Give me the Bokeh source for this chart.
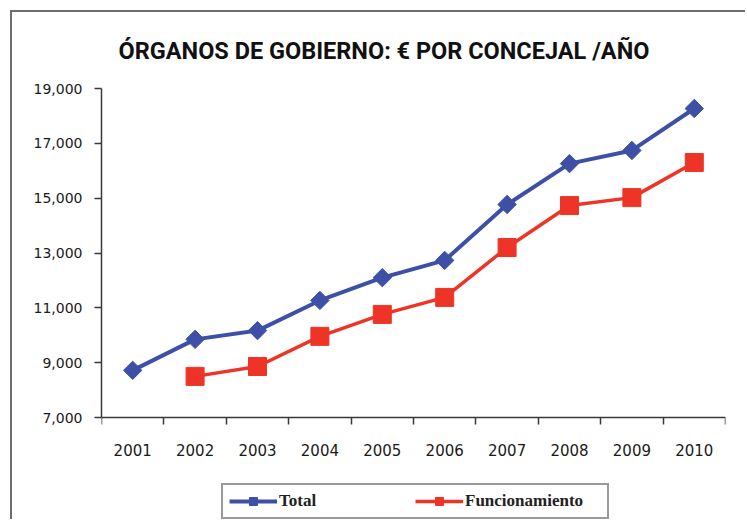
import math
from bokeh.plotting import figure
from bokeh.models import Range1d, FixedTicker, NumeralTickFormatter, Legend, LegendItem
from bokeh.embed import file_html
from bokeh.resources import INLINE

# ---- data ----
years = [2001, 2002, 2003, 2004, 2005, 2006, 2007, 2008, 2009, 2010]
total = [8720, 9850, 10170, 11270, 12100, 12730, 14770, 16260, 16740, 18270]
func_years = [2002, 2003, 2004, 2005, 2006, 2007, 2008, 2009, 2010]
funcionamiento = [8500, 8860, 9960, 10760, 11380, 13200, 14730, 15020, 16300]
y_ticks = [7000, 9000, 11000, 13000, 15000, 17000, 19000]
title_text = "ÓRGANOS DE GOBIERNO: € POR CONCEJAL /AÑO"
series_names = ["Total", "Funcionamiento"]

BLUE = "#3d50a6"
RED = "#ee3427"
AXIS = "#3a3a3a"

# layout: the plotting frame runs down to the bottom edge so that the x axis
# (fixed at the lowest tick) and the legend below it can share it
H = 519
TOP = 88
AXIS_PX = 417          # pixel row of the lowest tick
px_per_unit = (AXIS_PX - TOP) / (y_ticks[-1] - y_ticks[0])
y_bottom = y_ticks[0] - (H - AXIS_PX) / px_per_unit

p = figure(width=745, height=H, output_backend="svg", toolbar_location=None,
           x_range=Range1d(years[0] - 0.5, years[-1] + 0.5),
           y_range=Range1d(y_bottom, y_ticks[-1]),
           min_border_left=101, min_border_right=20, min_border_top=TOP,
           min_border_bottom=0)

p.styles = {"box-shadow": "inset 10px 10px 0 0 #ffffff, inset 12px 12px 0 0 #6e6e6e"}
p.border_fill_color = None
p.background_fill_color = "white"
p.outline_line_color = None
p.xgrid.visible = False
p.ygrid.visible = False

# title
p.title.text = title_text
p.title.text_font = "Roboto"
p.title.text_font_size = "23.5px"
p.title.text_font_style = "bold"
p.title.text_color = "#111111"
p.title.align = "left"
p.title.offset = 17
p.title.standoff = 47

# x axis (fixed at the 7,000 level)
xa = p.xaxis[0]
xa.fixed_location = y_ticks[0]
xa.ticker = FixedTicker(ticks=years, minor_ticks=[y - 0.5 for y in years] + [years[-1] + 0.5])
xa.major_tick_out = 0
xa.major_tick_in = 0
xa.minor_tick_out = 7
xa.minor_tick_in = 0
xa.minor_tick_line_color = AXIS
xa.minor_tick_line_width = 1.5
xa.axis_line_color = AXIS
xa.axis_line_width = 1.5
xa.major_label_standoff = 19
xa.major_label_text_font = "DejaVu Sans"
xa.major_label_text_font_size = "15px"
xa.major_label_text_color = "#1a1a1a"

# y axis
ya = p.yaxis[0]
ya.bounds = (y_ticks[0], y_ticks[-1])
ya.ticker = FixedTicker(ticks=y_ticks, minor_ticks=[])
ya.formatter = NumeralTickFormatter(format="0,0")
ya.major_tick_out = 7
ya.major_tick_in = 0
ya.major_tick_line_color = AXIS
ya.major_tick_line_width = 1.5
ya.axis_line_color = AXIS
ya.axis_line_width = 1.5
ya.major_label_standoff = 12
ya.major_label_text_font = "DejaVu Sans"
ya.major_label_text_font_size = "14px"
ya.major_label_text_color = "#1a1a1a"

# series
l1 = p.line(years, total, line_color=BLUE, line_width=4)
s1 = p.scatter(years, total, marker="square", angle=math.pi / 4, size=13,
               fill_color=BLUE, line_color=BLUE)
l2 = p.line(func_years, funcionamiento, line_color=RED, line_width=3.5)
s2 = p.scatter(func_years, funcionamiento, marker="square", size=18,
               fill_color=RED, line_color=RED)

legend = Legend(items=[LegendItem(label=series_names[0], renderers=[l1, s1]),
                       LegendItem(label=series_names[1], renderers=[l2, s2])],
                orientation="horizontal", location=(120, 0), margin=0,
                glyph_width=48, glyph_height=20, label_height=20,
                label_standoff=2, label_width=136, spacing=0, padding=6,
                border_line_color="#333333", border_line_width=2,
                background_fill_color="white", background_fill_alpha=1,
                label_text_font="Liberation Serif", label_text_font_style="bold",
                label_text_font_size="17px", label_text_color="#222222")
p.add_layout(legend, "center")

open("out.html", "w").write(file_html(p, INLINE))
